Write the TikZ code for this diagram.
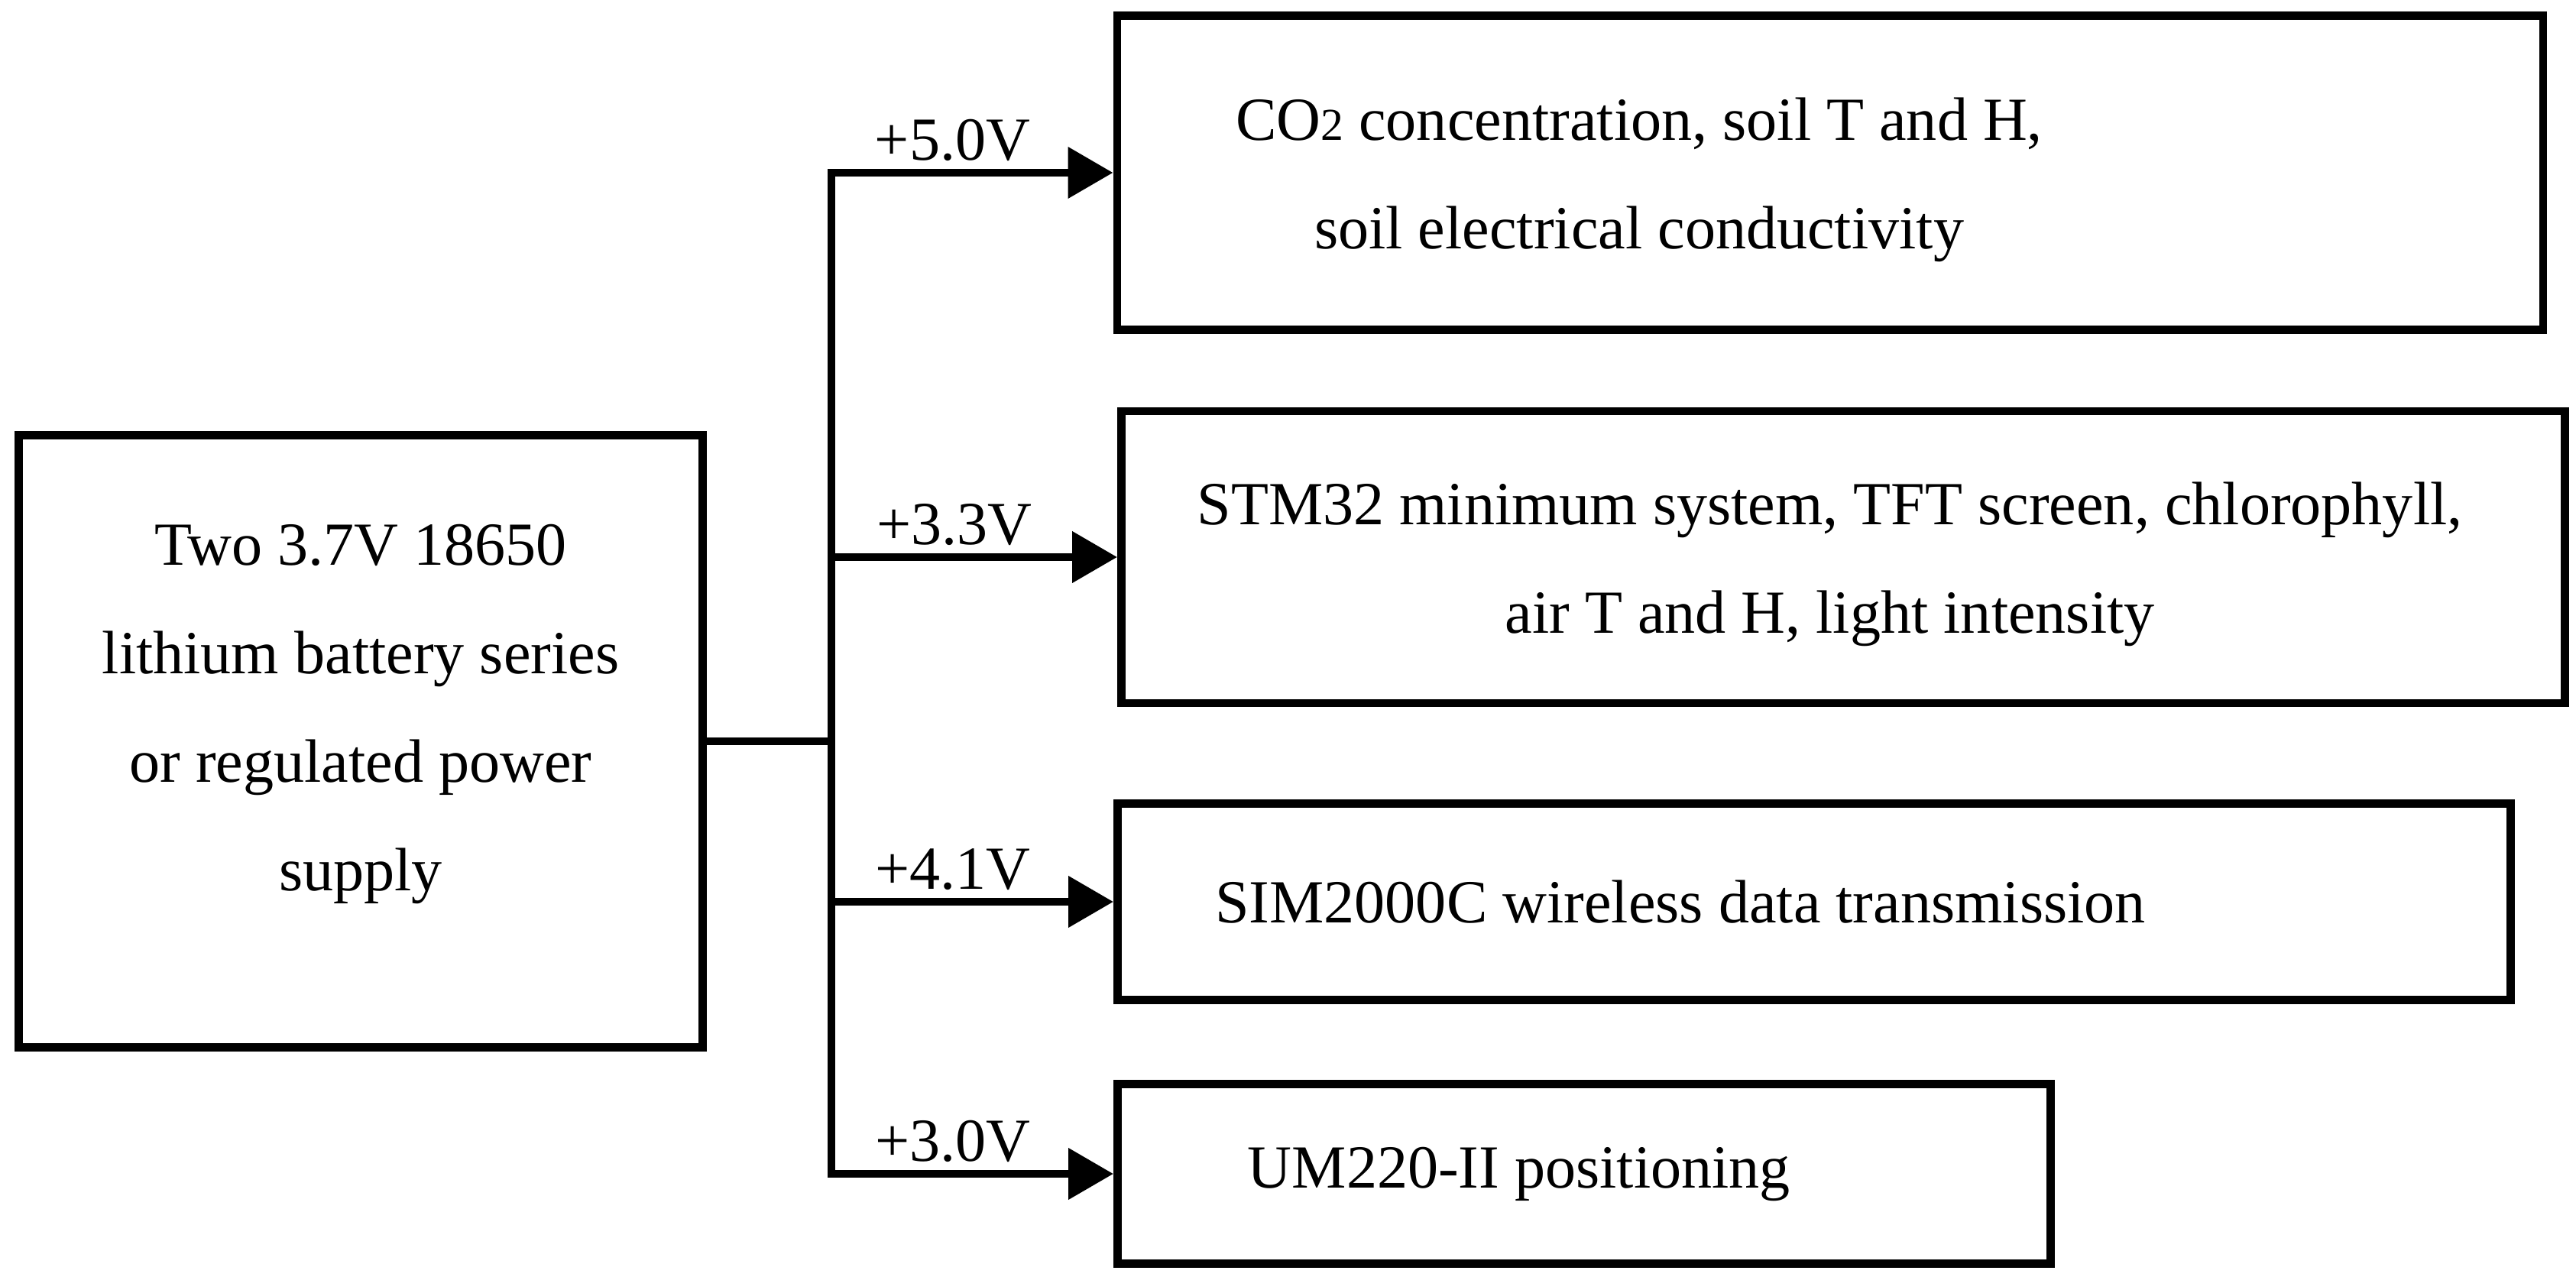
\documentclass[tikz,border=0pt]{standalone}
\usepackage{fontspec}
\setmainfont{Liberation Serif}
\usetikzlibrary{arrows.meta}
\tikzset{
  box/.style={draw, line width=3.1pt, inner sep=0pt, font=\fontsize{22.8}{40.4}\selectfont},
  wire/.style={line width=3.1pt},
  feed/.style={wire, -{Triangle[length=0.59cm,width=0.65cm]}},
  volt/.style={above, pos=0.43, inner sep=0.1cm, font=\fontsize{22.8}{27}\selectfont}
}

\begin{document}
\begin{tikzpicture}
    \useasboundingbox (0,0) rectangle (33.71,16.70);

    % power source
    \node[box, minimum width=8.95cm, minimum height=8.01cm] (src) at (4.72,7.00)
     {\begin{tabular}{@{}c@{}}Two 3.7V 18650\\lithium battery series\\or regulated power\\supply\\[0.92cm]\end{tabular}};

    % loads
    \node[box, minimum width=18.66cm, minimum height=4.11cm] (co2) at (23.95,14.44)
     {\begin{tabular}{@{}c@{}}CO{\fontsize{17}{17}\selectfont 2} concentration, soil T and H,\\soil electrical conductivity\end{tabular}\hspace*{5cm}};
    \node[box, minimum width=18.89cm, minimum height=3.82cm] (stm) at (24.12,9.41)
     {\begin{tabular}{@{}c@{}}STM32 minimum system, TFT screen, chlorophyll,\\air T and H, light intensity\end{tabular}\hspace*{0.35cm}};
    \node[box, minimum width=18.23cm, minimum height=2.57cm] (sim) at (23.74,4.90)
     {SIM2000C wireless data transmission\hspace*{3.5cm}};
    \node[box, minimum width=12.21cm, minimum height=2.35cm] (um) at (20.73,1.34)
     {UM220-II positioning\hspace*{1.7cm}};

    % supply bus
    \coordinate (bus) at (10.88,0);
    \draw[wire] (src.east) -- (bus |- src.east);
    \draw[wire, line cap=rect] (bus |- co2.west) -- (bus |- um.west);

    \draw[feed] (bus |- co2.west) -- (co2.west) node[volt]{+5.0V};
    \draw[feed] (bus |- stm.west) -- (stm.west) node[volt]{+3.3V};
    \draw[feed] (bus |- sim.west) -- (sim.west) node[volt]{+4.1V};
    \draw[feed] (bus |- um.west) -- (um.west) node[volt]{+3.0V};

\end{tikzpicture}
\end{document}
